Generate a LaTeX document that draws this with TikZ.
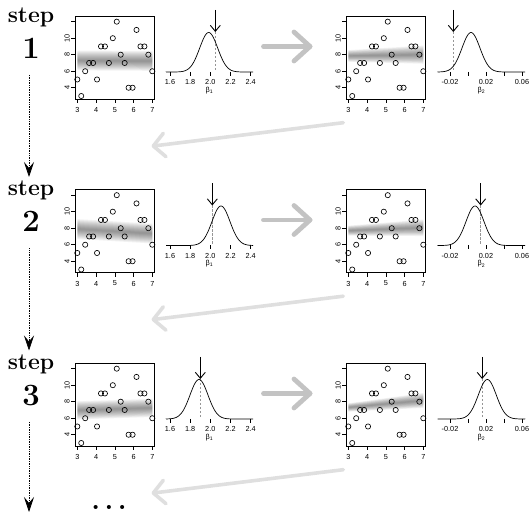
\documentclass[tikz,border=0pt]{standalone}
\usepackage{fontspec}
\newfontfamily\plotfont{Liberation Sans}
\usetikzlibrary{arrows.meta}

\definecolor{fwdgray}{RGB}{195,195,195}
\definecolor{backgray}{RGB}{223,223,223}
\definecolor{markgray}{RGB}{150,150,150}

\tikzset{
  declare function={px(\x)=77.3+(\x-3)*18.75; py(\x)=96-(\x-3)*8.26;},
  panelbox/.style={line width=0.6pt},
  axtick/.style={line width=0.5pt},
  ticklab/.style={font=\plotfont\fontsize{7.3}{8}\selectfont, inner sep=0pt},
  datapt/.style={line width=0.65pt},
  density/.style={line width=0.7pt},
  markline/.style={markgray, line width=0.6pt, dash pattern=on 2.5pt off 1.5pt},
  drawarrow/.style={-{Straight Barb[length=6pt,width=10pt]}, line width=0.9pt},
  fwdarrow/.style={fwdgray, line width=4.8pt, line cap=round, line join=round},
  backarrow/.style={backgray, line width=3.6pt, line cap=round, line join=round},
  steplab/.style={font=\fontsize{23}{23}\selectfont\bfseries, inner sep=0pt, anchor=base},
  stepnum/.style={font=\fontsize{31}{31}\selectfont\bfseries, inner sep=0pt, anchor=base},
  dotline/.style={densely dotted, line width=0.7pt, -{Stealth[length=15pt,width=10pt,inset=6pt]}},
}

\def\datapts{3.0000/5, 3.2105/3, 3.4211/6, 3.6316/7, 3.8421/7, 4.0526/5,
  4.2632/9, 4.4737/9, 4.6842/7, 4.8947/10, 5.1053/12, 5.3158/8, 5.5263/7,
  5.7368/4, 5.9474/4, 6.1579/11, 6.3684/9, 6.5789/9, 6.7895/8, 7.0000/6}

% scatter plot with a shaded band of fitted lines
% #1 name, #2 x offset, #3 y offset, #4 box top, #5/#6 centre/half-width at x=3, #7/#8 at x=7
\newcommand\scatterpanel[8]{%
\begin{scope}[shift={(#2,#3)}]
  \foreach \k in {1,...,10}{
    \fill[black, fill opacity=0.05]
      ({px(3)},{py(#5+#6*\k/10)}) -- ({px(7)},{py(#7+#8*\k/10)}) --
      ({px(7)},{py(#7-#8*\k/10)}) -- ({px(3)},{py(#5-#6*\k/10)}) -- cycle;
  }
  \foreach \dx/\dy in \datapts { \draw[datapt] ({px(\dx)},{py(\dy)}) circle[radius=2.6pt]; }
  \draw[panelbox] (75.3,#4) rectangle (154,99.3);
  \foreach \t in {3,...,7}{
    \draw[axtick] ({px(\t)},99.3) -- ++(0,4);
    \node[ticklab] (#1-x\t) at ({px(\t)},110) {\t};
  }
  \foreach \t in {4,6,8,10,12} \draw[axtick] (75.3,{py(\t)}) -- ++(-4,0);
  \foreach \t in {4,6,8,10} \node[ticklab, rotate=90] (#1-y\t) at (67,{py(\t)}) {\t};
\end{scope}}

% density curve with the drawn value marked
% #1 name, #2 y offset, #3/#4 axis ends, #5 peak, #6 drawn value, #7 subscript,
% #8 tick positions, #9 labelled ticks
\newcommand\densitypanel[9]{%
\begin{scope}[shift={(0,#2)}]
  \pgfmathsetmacro\dlo{max(#3,#5-45)}
  \pgfmathsetmacro\dhi{min(#4,#5+45)}
  \draw[markline] (#6,32) -- (#6,72);
  \draw[density] (#3,72) -- (\dlo,72) -- plot[domain=\dlo:\dhi, samples=80, smooth]
    (\x,{72-39.5*exp(-0.5*((\x-#5)/9)^2)}) -- (#4,72);
  \coordinate (#1-top) at (#6,10);
  \coordinate (#1-tip) at (#6,32);
  \draw[drawarrow] (#1-top) -- (#1-tip);
  \foreach \p in {#8} \draw[axtick] (\p,72) -- (\p,76);
  \foreach \p/\l [count=\i] in {#9} \node[ticklab] (#1-t\i) at (\p,82) {\l};
  \node[ticklab] (#1-lab) at ({(#3+#4)/2},90.5) {β\textsubscript{#7}};
\end{scope}}

\newcommand\betaone[4]{\densitypanel{#1}{#2}{166}{253}{#3}{#4}{1}
  {170,190.2,210.3,230.5,250.7}{170/1.6,190.2/1.8,210.3/2.0,230.5/2.2,250.7/2.4}}
\newcommand\betatwo[4]{\densitypanel{#1}{#2}{437.7}{525}{#3}{#4}{2}
  {450,468,486,504,522}{450/-0.02,486/0.02,522/0.06}}

% forward (grey) and backward (light grey) arrows of one step
\newcommand\steparrows[2]{%
\begin{scope}[shift={(0,#2)}]
  \coordinate (#1-fs) at (263.5,46.5);
  \coordinate (#1-ft) at (310,46.5);
  \coordinate (#1-fa) at (294,32);
  \coordinate (#1-fb) at (294,61);
  \draw[fwdarrow] (#1-fs) -- (#1-ft);
  \draw[fwdarrow] (#1-fa) -- (#1-ft) -- (#1-fb);
  \coordinate (#1-bs) at (343.3,122.7);
  \coordinate (#1-bt) at (153.3,146);
  \coordinate (#1-ba) at (163.3,133.3);
  \coordinate (#1-bb) at (166,156.7);
  \draw[backarrow] (#1-bs) -- (#1-bt);
  \draw[backarrow] (#1-ba) -- (#1-bt) -- (#1-bb);
\end{scope}}

\begin{document}
\begin{tikzpicture}[x=1pt, y=-1pt]
\useasboundingbox (0,0) rectangle (531,513);
\clip (0,0) rectangle (531,513);

% step 1
\scatterpanel{p1a}{0}{0}{16}{7.3}{1.2}{7.25}{1.2}
\betaone{d1a}{0}{208.7}{215.3}
\scatterpanel{p1b}{271}{0}{16}{7.85}{0.7}{8.0}{1.1}
\betatwo{d1b}{0}{471}{453.3}
\steparrows{a1}{0}

% step 2
\scatterpanel{p2a}{0}{173.5}{16}{7.9}{1.2}{7.35}{1.2}
\betaone{d2a}{173.5}{221}{212.3}
\scatterpanel{p2b}{271}{173.5}{16}{7.7}{0.6}{8.05}{1.0}
\betatwo{d2b}{173.5}{475}{480.7}
\steparrows{a2}{173.5}

% step 3
\scatterpanel{p3a}{0}{347}{16}{6.95}{1.1}{7.25}{1.1}
\betaone{d3a}{347}{199}{200.3}
\scatterpanel{p3b}{271}{347}{16}{7.3}{0.5}{8.15}{0.9}
\betatwo{d3b}{347}{487.3}{482.2}
\steparrows{a3}{347}

% step labels and the chain of steps
\node[steplab] (step1) at (31,22.5) {step};
\node[stepnum] (num1) at (31,58.2) {1};
\node[steplab] (step2) at (31,196) {step};
\node[stepnum] (num2) at (31,231.7) {2};
\node[steplab] (step3) at (31,369.5) {step};
\node[stepnum] (num3) at (31,405.2) {3};
\node[stepnum, font=\fontsize{28}{28}\selectfont\bfseries] (more) at (109,509.5) {.\kern4.5pt.\kern4.5pt.};

\coordinate (c1s) at (29,75);
\coordinate (c1e) at (29,177);
\coordinate (c2s) at (29,248.5);
\coordinate (c2e) at (29,350.5);
\coordinate (c3s) at (29,422);
\coordinate (c3e) at (29,512);
\draw[dotline] (c1s) -- (c1e);
\draw[dotline] (c2s) -- (c2e);
\draw[dotline] (c3s) -- (c3e);
\end{tikzpicture}
\end{document}
